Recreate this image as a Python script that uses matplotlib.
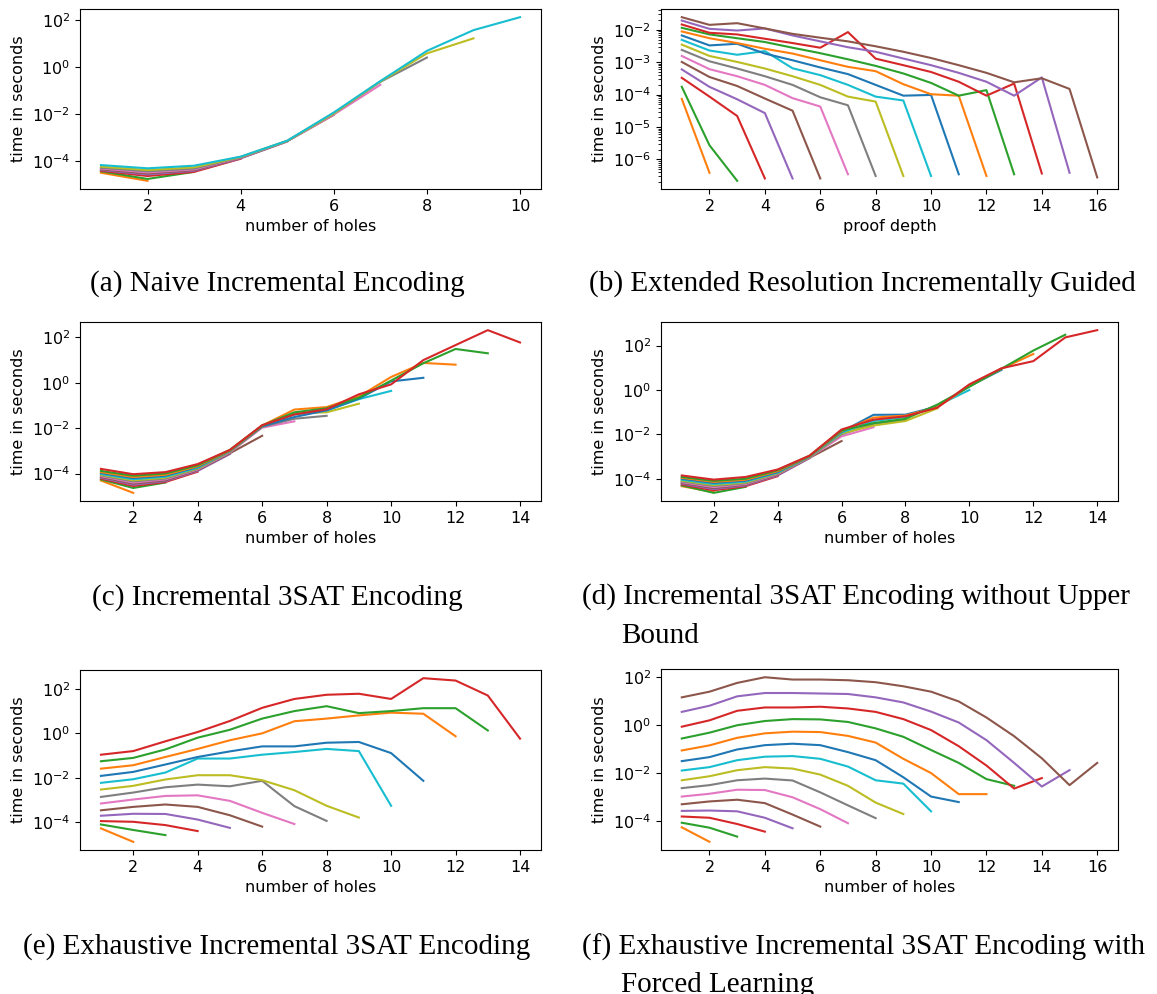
import matplotlib
matplotlib.use("Agg")
import matplotlib.pyplot as plt

# Each panel: list of runs; run k (k = 1, 2, ...) covers x = 1 .. k+1
# and is drawn in colour C{k % 10}.

naive_times = [
    [3.3e-5, 1.5e-5],
    [3.8e-5, 1.8e-5, 3.6e-5],
    [4.0e-5, 2.4e-5, 3.6e-5, 1.3e-4],
    [4.3e-5, 2.8e-5, 4.0e-5, 1.35e-4, 7.0e-4],
    [4.6e-5, 3.1e-5, 4.3e-5, 1.4e-4, 7.2e-4, 9.5e-3],
    [5.0e-5, 3.4e-5, 4.6e-5, 1.45e-4, 7.3e-4, 9.8e-3, 0.18],
    [5.4e-5, 3.8e-5, 5.0e-5, 1.5e-4, 7.4e-4, 0.011, 0.24, 2.6],
    [6.0e-5, 4.3e-5, 5.6e-5, 1.55e-4, 7.5e-4, 0.011, 0.25, 3.9, 17],
    [7.0e-5, 5.1e-5, 6.6e-5, 1.6e-4, 7.6e-4, 0.012, 0.26, 5.0, 38, 135],
]

er_guided_times = [
    [7.4e-5, 3.9e-7],
    [1.75e-4, 2.75e-6, 2.2e-7],
    [3.3e-4, 8.7e-5, 2.2e-5, 2.6e-7],
    [6.0e-4, 1.74e-4, 7.2e-5, 2.7e-5, 2.6e-7],
    [1.02e-3, 3.5e-4, 1.85e-4, 7.6e-5, 3.2e-5, 2.6e-7],
    [1.56e-3, 6.1e-4, 3.7e-4, 2.0e-4, 7.8e-5, 4.3e-5, 3.5e-7],
    [2.4e-3, 1.07e-3, 6.4e-4, 3.7e-4, 2.0e-4, 8.3e-5, 4.7e-5, 3.1e-7],
    [3.5e-3, 1.56e-3, 1.02e-3, 6.4e-4, 3.7e-4, 2.0e-4, 8.7e-5, 6.1e-5, 3.1e-7],
    [4.9e-3, 2.3e-3, 1.7e-3, 2.2e-3, 6.5e-4, 4.0e-4, 2.0e-4, 8.7e-5, 6.6e-5, 3.1e-7],
    [6.7e-3, 3.3e-3, 3.7e-3, 1.85e-3, 1.15e-3, 6.9e-4, 4.3e-4, 2.0e-4, 9.3e-5,
     9.8e-5, 3.5e-7],
    [8.9e-3, 5.5e-3, 3.9e-3, 2.6e-3, 1.85e-3, 1.15e-3, 7.2e-4, 5.3e-4, 2.1e-4,
     1.03e-4, 9.3e-5, 3.1e-7],
    [1.15e-2, 7.2e-3, 5.5e-3, 4.2e-3, 2.8e-3, 1.9e-3, 1.23e-3, 7.7e-4, 4.5e-4,
     2.3e-4, 9.3e-5, 1.38e-4, 3.5e-7],
    [1.46e-2, 8.1e-3, 7.2e-3, 5.3e-3, 3.9e-3, 2.8e-3, 8.5e-3, 1.29e-3, 8.1e-4,
     5.0e-4, 2.5e-4, 9.3e-5, 2.2e-4, 3.7e-7],
    [1.93e-2, 1.07e-2, 9.5e-3, 1.1e-2, 6.7e-3, 4.4e-3, 2.9e-3, 2.1e-3, 1.3e-3,
     8.1e-4, 4.7e-4, 2.5e-4, 9.3e-5, 3.4e-4, 3.9e-7],
    [2.45e-2, 1.42e-2, 1.6e-2, 1.1e-2, 7.5e-3, 5.7e-3, 4.4e-3, 3.1e-3, 2.1e-3,
     1.35e-3, 8.1e-4, 4.7e-4, 2.4e-4, 3.2e-4, 1.5e-4, 2.8e-7],
]

sat3_times = [
    [4.9e-5, 1.4e-5],
    [5.5e-5, 2.3e-5, 4.0e-5],
    [6.0e-5, 2.8e-5, 4.2e-5, 1.2e-4],
    [6.5e-5, 3.2e-5, 4.6e-5, 1.3e-4, 7.2e-4],
    [7.0e-5, 3.6e-5, 5.0e-5, 1.4e-4, 7.8e-4, 4.6e-3],
    [7.6e-5, 4.0e-5, 5.5e-5, 1.5e-4, 8.5e-4, 0.0105, 0.020],
    [8.2e-5, 4.5e-5, 6.0e-5, 1.6e-4, 9.0e-4, 0.0115, 0.026, 0.035],
    [8.8e-5, 5.0e-5, 6.5e-5, 1.7e-4, 9.5e-4, 0.012, 0.045, 0.05, 0.12],
    [9.5e-5, 5.6e-5, 7.2e-5, 1.8e-4, 1.0e-3, 0.0125, 0.04, 0.06, 0.19, 0.44],
    [1.05e-4, 6.3e-5, 8.0e-5, 1.95e-4, 1.0e-3, 0.012, 0.031, 0.061, 0.2, 1.15, 1.66],
    [1.15e-4, 7.0e-5, 8.8e-5, 2.1e-4, 1.05e-3, 0.013, 0.066, 0.085, 0.25, 1.8,
     7.5, 6.3],
    [1.3e-4, 8.0e-5, 1.0e-4, 2.3e-4, 1.1e-3, 0.013, 0.05, 0.075, 0.22, 1.25,
     7.3, 31, 20],
    [1.6e-4, 9.3e-5, 1.15e-4, 2.6e-4, 1.1e-3, 0.0135, 0.04, 0.068, 0.31, 0.85,
     10, 46, 210, 60],
]

sat3_no_bound_times = [
    [4.6e-5, 2.5e-5],
    [5.0e-5, 2.3e-5, 4.3e-5],
    [5.5e-5, 3.0e-5, 4.6e-5, 1.3e-4],
    [6.0e-5, 3.4e-5, 5.0e-5, 1.4e-4, 8.5e-4],
    [6.5e-5, 3.8e-5, 5.4e-5, 1.5e-4, 8.8e-4, 5.0e-3],
    [7.0e-5, 4.2e-5, 5.8e-5, 1.6e-4, 9.2e-4, 8.1e-3, 0.021],
    [7.6e-5, 4.7e-5, 6.3e-5, 1.7e-4, 9.5e-4, 0.010, 0.03, 0.045],
    [8.2e-5, 5.2e-5, 6.8e-5, 1.8e-4, 9.8e-4, 0.011, 0.025, 0.040, 0.15],
    [9.0e-5, 5.8e-5, 7.4e-5, 1.9e-4, 1.0e-3, 0.012, 0.04, 0.06, 0.2, 1.0],
    [1.0e-4, 6.5e-5, 8.2e-5, 2.0e-4, 1.02e-3, 0.013, 0.076, 0.077, 0.18, 1.5, 8],
    [1.1e-4, 7.2e-5, 9.0e-5, 2.2e-4, 1.05e-3, 0.014, 0.057, 0.07, 0.17, 1.5,
     9, 42],
    [1.2e-4, 8.0e-5, 1.0e-4, 2.4e-4, 1.08e-3, 0.015, 0.032, 0.05, 0.22, 1.4,
     9, 60, 310],
    [1.4e-4, 9.1e-5, 1.2e-4, 2.6e-4, 1.1e-3, 0.0166, 0.046, 0.065, 0.16, 1.8,
     9.5, 20, 235, 500],
]

exhaustive_times = [
    [5.4e-5, 1.35e-5],
    [8.1e-5, 4.6e-5, 2.7e-5],
    [1.15e-4, 1.07e-4, 7.6e-5, 4.1e-5],
    [2.0e-4, 2.45e-4, 2.4e-4, 1.35e-4, 5.7e-5],
    [3.5e-4, 5.0e-4, 6.4e-4, 5.0e-4, 2.1e-4, 6.5e-5],
    [7.1e-4, 1.07e-3, 1.55e-3, 1.65e-3, 9.3e-4, 2.7e-4, 8.5e-5],
    [1.4e-3, 2.2e-3, 3.8e-3, 5.0e-3, 4.2e-3, 7.4e-3, 5.4e-4, 1.17e-4],
    [3.0e-3, 4.4e-3, 8.5e-3, 0.0132, 0.0132, 7.9e-3, 2.8e-3, 5.6e-4, 1.66e-4],
    [6.0e-3, 8.7e-3, 0.0174, 0.074, 0.074, 0.11, 0.145, 0.2, 0.16, 5.6e-4],
    [0.0123, 0.0186, 0.04, 0.087, 0.155, 0.26, 0.26, 0.38, 0.41, 0.13, 7.4e-3],
    [0.026, 0.037, 0.087, 0.2, 0.49, 1.0, 3.5, 4.6, 6.4, 8.5, 7.6, 0.74],
    [0.056, 0.079, 0.19, 0.64, 1.45, 4.6, 10, 16.6, 8.1, 10, 13.5, 13.5, 1.35],
    [0.11, 0.16, 0.44, 1.15, 3.6, 14, 35, 54, 60, 35, 300, 235, 50, 0.58],
]

forced_learning_times = [
    [5.6e-5, 1.4e-5],
    [8.7e-5, 5.4e-5, 2.3e-5],
    [1.58e-4, 1.4e-4, 7.7e-5, 3.7e-5],
    [2.7e-4, 2.8e-4, 2.6e-4, 1.4e-4, 5.1e-5],
    [5.1e-4, 6.7e-4, 7.9e-4, 5.7e-4, 1.9e-4, 6.0e-5],
    [1.07e-3, 1.4e-3, 2.06e-3, 2.0e-3, 1.0e-3, 3.2e-4, 8.3e-5],
    [2.4e-3, 3.2e-3, 5.1e-3, 6.0e-3, 5.0e-3, 1.6e-3, 4.6e-4, 1.35e-4],
    [5.1e-3, 7.5e-3, 0.0134, 0.018, 0.0157, 8.8e-3, 3.0e-3, 6.0e-4, 2.0e-4],
    [0.013, 0.018, 0.035, 0.049, 0.052, 0.04, 0.019, 5.1e-3, 3.7e-3, 2.6e-4],
    [0.032, 0.047, 0.098, 0.148, 0.17, 0.148, 0.076, 0.035, 6.8e-3, 1.07e-3, 6.3e-4],
    [0.089, 0.145, 0.30, 0.46, 0.54, 0.52, 0.36, 0.19, 0.04, 0.0102, 1.35e-3, 1.35e-3],
    [0.28, 0.49, 1.0, 1.5, 1.8, 1.75, 1.37, 0.74, 0.33, 0.093, 0.027, 5.7e-3, 3.0e-3],
    [0.87, 1.6, 4.0, 5.5, 5.5, 5.9, 5.0, 3.6, 1.8, 0.63, 0.134, 0.021, 2.3e-3, 6.3e-3],
    [3.6, 6.5, 16, 22, 22, 21, 20, 14.5, 8.9, 3.7, 1.3, 0.24, 0.027, 2.8e-3, 0.0135],
    [14.5, 25, 58, 100, 80, 80, 75, 62, 42, 25, 9.8, 2.1, 0.35, 0.042, 3.2e-3, 0.027],
]

W, H = 1157, 994
fig = plt.figure(figsize=(W / 100, H / 100), dpi=100)

LEFT_COL = (80, 541)
RIGHT_COL = (661, 1118)
FS = 11.5


def add_panel(xspan, ytop, ybot):
    x0, x1 = xspan
    return fig.add_axes([x0 / W, 1 - ybot / H, (x1 - x0) / W, (ybot - ytop) / H])


def draw(ax, runs, xlabel):
    for k, ys in enumerate(runs, start=1):
        xs = list(range(1, len(ys) + 1))
        ax.plot(xs, ys, color=f"C{k % 10}", lw=1.5)
    ax.set_yscale("log")
    ax.set_xlabel(xlabel, fontsize=FS)
    ax.set_ylabel("time in seconds", fontsize=FS)
    ax.tick_params(labelsize=FS)


panels = [
    (LEFT_COL, 9, 189, naive_times, "number of holes"),
    (RIGHT_COL, 9, 189, er_guided_times, "proof depth"),
    (LEFT_COL, 322, 501, sat3_times, "number of holes"),
    (RIGHT_COL, 322, 501, sat3_no_bound_times, "number of holes"),
    (LEFT_COL, 670, 850, exhaustive_times, "number of holes"),
    (RIGHT_COL, 669, 850, forced_learning_times, "number of holes"),
]
for span, yt, yb, runs, xl in panels:
    ax = add_panel(span, yt, yb)
    draw(ax, runs, xl)

cap = dict(fontfamily="Liberation Serif", fontsize=21, va="baseline")


def fx(px):
    return px / W


def fy(py):
    return 1 - py / H


fig.text(fx(277), fy(291), "(a) Naive Incremental Encoding", ha="center", **cap)
fig.text(fx(589), fy(291), "(b) Extended Resolution Incrementally Guided", ha="left", **cap)
fig.text(fx(277), fy(605), "(c) Incremental 3SAT Encoding", ha="center", **cap)
fig.text(fx(582), fy(604), "(d) Incremental 3SAT Encoding without Upper", ha="left", **cap)
fig.text(fx(621), fy(643), "Bound", ha="left", **cap)
fig.text(fx(277), fy(954), "(e) Exhaustive Incremental 3SAT Encoding", ha="center", **cap)
fig.text(fx(582), fy(955), "(f) Exhaustive Incremental 3SAT Encoding with", ha="left", **cap)
fig.text(fx(621), fy(992), "Forced Learning", ha="left", **cap)

fig.savefig("out.png", dpi=100)
